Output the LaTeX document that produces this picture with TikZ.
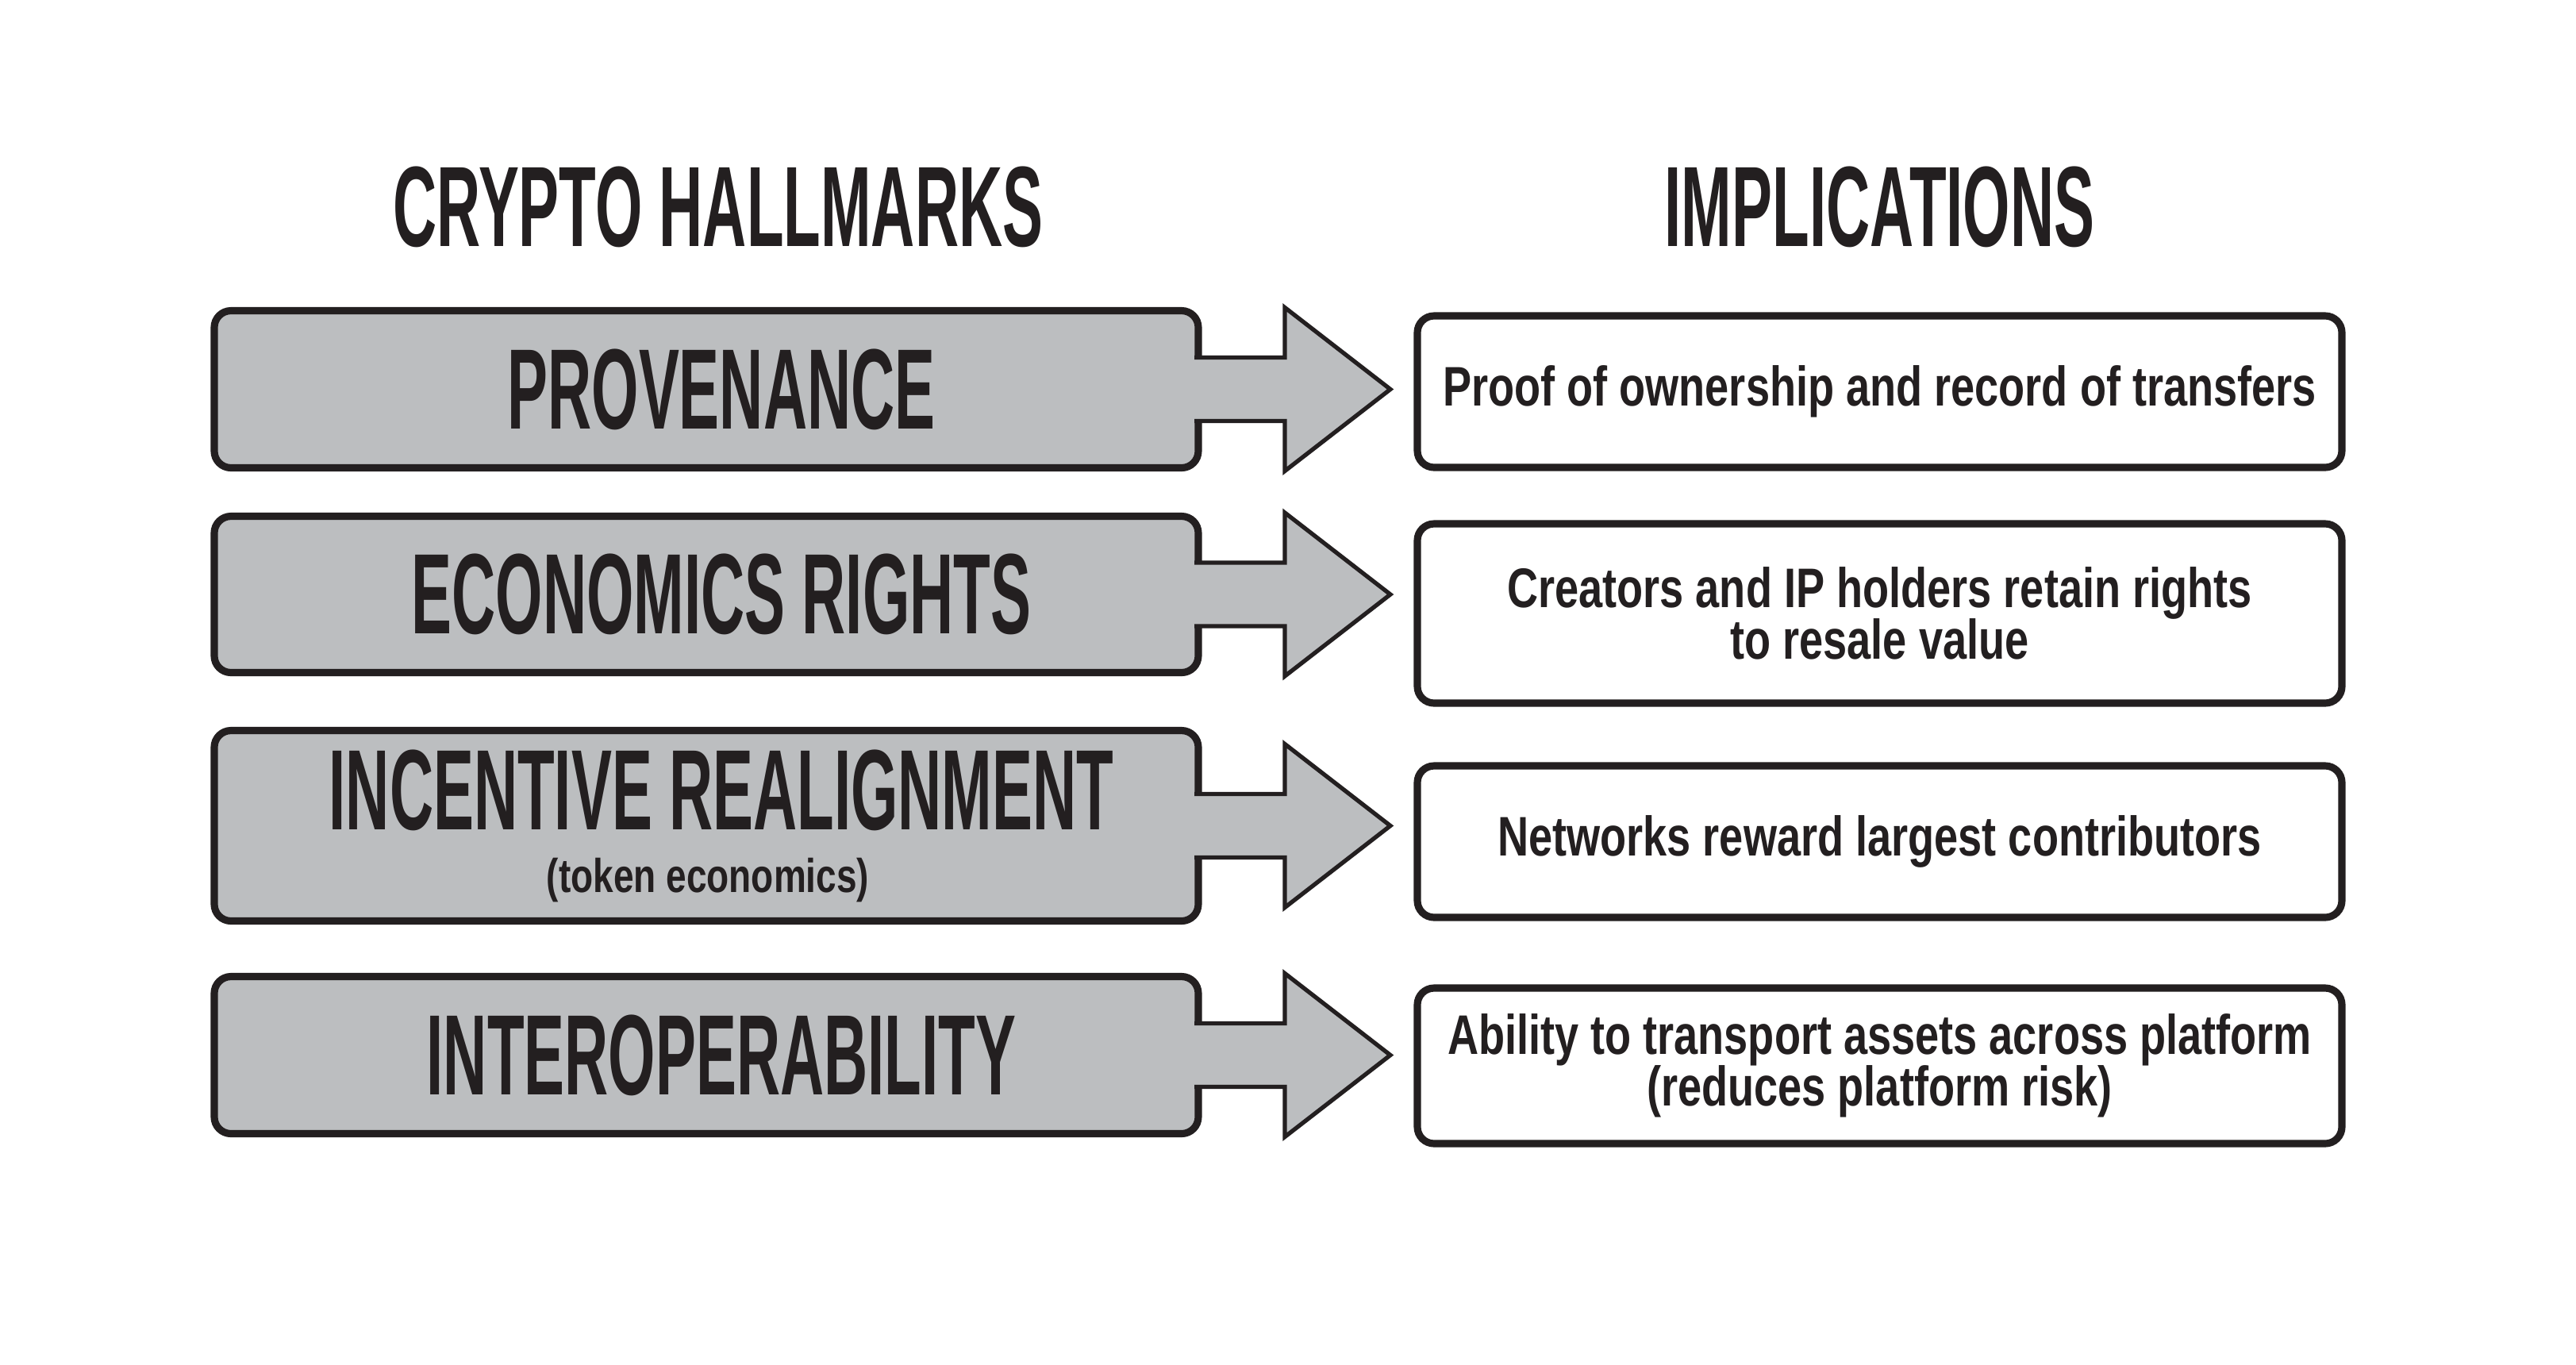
\documentclass[tikz,border=0pt]{standalone}
\usepackage{fontspec}
\usetikzlibrary{positioning, calc}
\newfontfamily\hallfont[FakeStretch=0.53]{Liberation Sans Bold}
\newfontfamily\implfont[FakeStretch=0.77]{Liberation Sans Bold}
\definecolor{inkblack}{RGB}{35,31,32}
\definecolor{hallgray}{RGB}{188,190,192}
\tikzset{%
	heading/.style={inner sep=0mm, text=inkblack,%
		font={\hallfont\fontsize{41}{41}\selectfont}},
	hall/.style={draw=inkblack, fill=hallgray, rectangle, rounded corners=6pt,%
		line width=2.6pt, outer sep=0pt, minimum width=124mm, align=center, text=inkblack,%
		execute at begin node={\hspace*{3.8mm}},%
		font={\hallfont\fontsize{41}{41}\selectfont\lineskiplimit=-30pt}},
	impl/.style={draw=inkblack, fill=white, rectangle, rounded corners=6pt,%
		line width=2.6pt, outer sep=0pt, minimum width=116.5mm, align=center, text=inkblack,%
		font={\implfont\fontsize{20}{18.5}\selectfont\lineskiplimit=-20pt}},
	blockarrow/.style={draw=inkblack, fill=hallgray, line width=1.5pt, line join=miter}
}

\begin{document}
\begin{tikzpicture}
	\fill[white] (0,0) rectangle (32.46,-17.19);

	\node[hall, minimum height=19.8mm] (hall1) at (8.90,-4.905) {PROVENANCE};
	\node[hall, minimum height=19.7mm] (hall2) at (8.90,-7.49)  {ECONOMICS RIGHTS};
	\node[hall, minimum height=24.0mm] (hall3) at (8.90,-10.405)
		{INCENTIVE REALIGNMENT\\[-18.5pt]\hspace*{-3.4mm}{\implfont\fontsize{17}{17}\selectfont (token economics)}};
	\node[hall, minimum height=19.8mm] (hall4) at (8.90,-13.295) {INTEROPERABILITY};

	\node[impl, minimum height=19.1mm] (impl1) at (23.685,-4.935) {Proof of ownership and record of transfers};
	\node[impl, minimum height=22.6mm] (impl2) at (23.685,-7.73)  {Creators and IP holders retain rights\\to resale value};
	\node[impl, minimum height=19.1mm] (impl3) at (23.685,-10.605) {Networks reward largest contributors};
	\node[impl, minimum height=19.6mm] (impl4) at (23.685,-13.43) {Ability to transport assets across platform\\(reduces platform risk)};

	\node[heading, above=7.9mm of hall1, xshift=1.5mm] (head1) {CRYPTO HALLMARKS};
	\node[heading, above=8.5mm of impl1] (head2) {IMPLICATIONS};

	% block arrows from hallmark to implication
	\draw[blockarrow] ([shift={(-0.5mm,4mm)}]hall1.east) -- ++(11.4mm,0) -- ++(0,6.3mm)
		-- ($(impl1.west |- hall1.east)+(-3.4mm,0)$) -- ([shift={(10.9mm,-10.3mm)}]hall1.east)
		-- ++(0,6.3mm) -- ([shift={(-0.5mm,-4mm)}]hall1.east);
	\draw[blockarrow] ([shift={(-0.5mm,4mm)}]hall2.east) -- ++(11.4mm,0) -- ++(0,6.3mm)
		-- ($(impl2.west |- hall2.east)+(-3.4mm,0)$) -- ([shift={(10.9mm,-10.3mm)}]hall2.east)
		-- ++(0,6.3mm) -- ([shift={(-0.5mm,-4mm)}]hall2.east);
	\draw[blockarrow] ([shift={(-0.5mm,4mm)}]hall3.east) -- ++(11.4mm,0) -- ++(0,6.3mm)
		-- ($(impl3.west |- hall3.east)+(-3.4mm,0)$) -- ([shift={(10.9mm,-10.3mm)}]hall3.east)
		-- ++(0,6.3mm) -- ([shift={(-0.5mm,-4mm)}]hall3.east);
	\draw[blockarrow] ([shift={(-0.5mm,4mm)}]hall4.east) -- ++(11.4mm,0) -- ++(0,6.3mm)
		-- ($(impl4.west |- hall4.east)+(-3.4mm,0)$) -- ([shift={(10.9mm,-10.3mm)}]hall4.east)
		-- ++(0,6.3mm) -- ([shift={(-0.5mm,-4mm)}]hall4.east);
\end{tikzpicture}
\end{document}
